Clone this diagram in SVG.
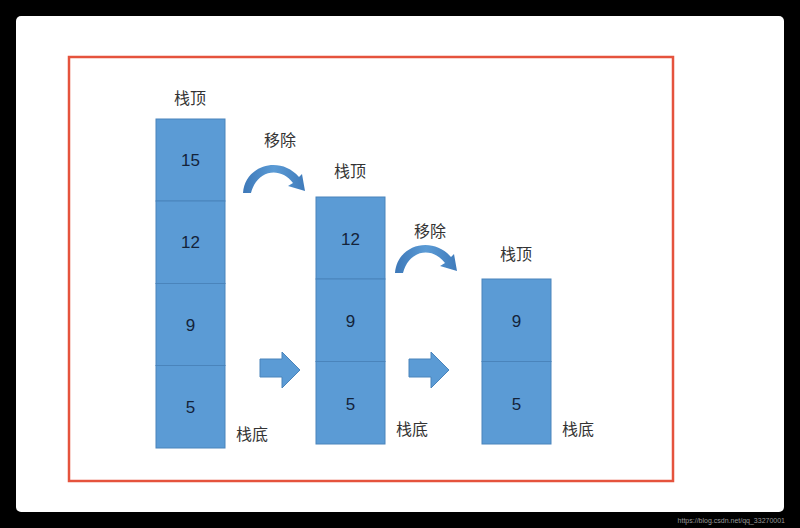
<svg xmlns="http://www.w3.org/2000/svg" width="800" height="528" viewBox="0 0 800 528">
<defs>
<style>
.cell{fill:#5b9bd5;stroke:#4a84bb;stroke-width:1}
.num{font-family:"Liberation Sans",Arial,sans-serif;font-size:17px;fill:#14233a;text-anchor:middle}
.lbl{font-family:"Noto Sans CJK SC",sans-serif;font-size:16px;fill:#333;text-anchor:middle}
.blk{fill:#5b9bd5;stroke:#4a84bb;stroke-width:1}
</style>
<linearGradient id="cg" x1="0" y1="0" x2="1" y2="0">
<stop offset="0" stop-color="#3d78b8"/>
<stop offset="0.5" stop-color="#5b9bd5"/>
<stop offset="1" stop-color="#3f7bbb"/>
</linearGradient>
<path id="curve" d="M243,193 C245,165 280,155 299,177 L302,174 L305,191 L288,186 L293,183 C280,166 257,170 251,193 Z" fill="url(#cg)"/>
<path id="block" d="M260,359 L282,359 L282,352 L300,370 L282,388 L282,377 L260,377 Z" class="blk"/>
</defs>
<rect x="0" y="0" width="800" height="528" fill="#000"/>
<rect x="16" y="16" width="768" height="496" rx="5" fill="#fff"/>
<rect x="69" y="57" width="604" height="424" fill="none" stroke="#e5533d" stroke-width="2.5"/>
<g id="stack1">
<rect class="cell" x="156" y="119" width="69" height="82"/>
<rect class="cell" x="156" y="201" width="69" height="82.5"/>
<rect class="cell" x="156" y="283.5" width="69" height="82"/>
<rect class="cell" x="156" y="365.5" width="69" height="82.5"/>
<text class="num" x="190.5" y="166">15</text>
<text class="num" x="190.5" y="248">12</text>
<text class="num" x="190.5" y="331">9</text>
<text class="num" x="190.5" y="413">5</text>
<text class="lbl" x="190" y="104">栈顶</text>
<text class="lbl" x="252" y="440">栈底</text>
</g>
<g id="stack2">
<rect class="cell" x="316" y="197" width="69" height="82"/>
<rect class="cell" x="316" y="279" width="69" height="82.5"/>
<rect class="cell" x="316" y="361.5" width="69" height="82.5"/>
<text class="num" x="350.5" y="245">12</text>
<text class="num" x="350.5" y="327">9</text>
<text class="num" x="350.5" y="410">5</text>
<text class="lbl" x="350" y="177">栈顶</text>
<text class="lbl" x="412" y="435">栈底</text>
</g>
<g id="stack3">
<rect class="cell" x="482" y="279" width="69" height="82.5"/>
<rect class="cell" x="482" y="361.5" width="69" height="82.5"/>
<text class="num" x="516.5" y="327">9</text>
<text class="num" x="516.5" y="410">5</text>
<text class="lbl" x="516" y="260">栈顶</text>
<text class="lbl" x="578" y="435">栈底</text>
</g>
<g id="connectors">
<use href="#curve"/>
<use href="#curve" transform="translate(152,80)"/>
<use href="#block"/>
<use href="#block" transform="translate(149,0)"/>
<text class="lbl" x="280" y="146">移除</text>
<text class="lbl" x="430" y="237">移除</text>
</g>
<text x="785" y="523" font-family="Liberation Sans,sans-serif" font-size="7" fill="#9a9a9a" text-anchor="end">https://blog.csdn.net/qq_33270001</text>
</svg>
